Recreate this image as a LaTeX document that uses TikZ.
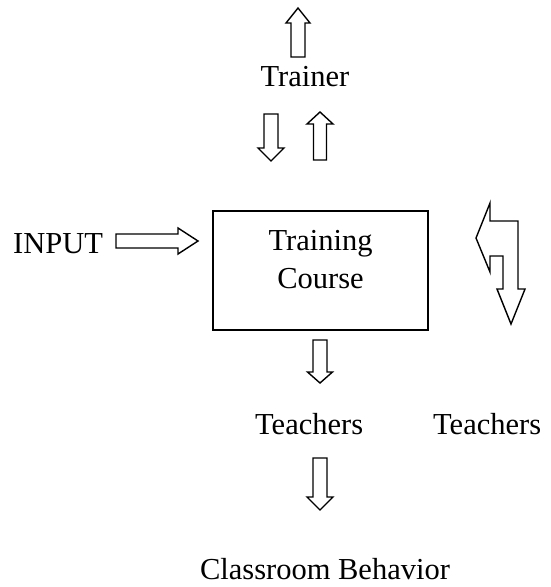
\documentclass[tikz,border=0pt]{standalone}
\usepackage{fontspec}
\setmainfont{Liberation Serif}
\begin{document}
\begin{tikzpicture}[x=1pt,y=-1pt,
  lbl/.style={font=\fontsize{30.5}{37}\selectfont, inner sep=0pt, anchor=base},
  blockarrow/.style={draw=black, line width=1.4pt, fill=white, line join=miter},
  coursebox/.style={draw=black, line width=1.8pt, inner sep=0pt}]
\useasboundingbox (0,0) rectangle (550,587);

% central box
\node[coursebox, minimum width=215pt, minimum height=119pt] (course) at (320.5,270.5) {};
\node[lbl] (training) at (320.5,250) {Training};
\node[lbl] (coursetxt) at (320.5,288) {Course};

% labels
\node[lbl] (trainer) at (305,86) {Trainer};
\node[lbl, anchor=base west] (input) at (13,253) {INPUT};
\node[lbl, anchor=base west] (teachers) at (255,434) {Teachers};
\node[lbl, anchor=base west] (teachers2) at (433,434) {Teachers};
\node[lbl] (behavior) at (325,579) {Classroom Behavior};

% block arrows
% up, above Trainer
\draw[blockarrow] (298,8) -- (310,23) -- (305,23) -- (305,57) -- (291,57) -- (291,23) -- (286,23) -- cycle;
% down, left of second row
\draw[blockarrow] (271,161) -- (284,148) -- (278,148) -- (278,114) -- (264,114) -- (264,148) -- (258,148) -- cycle;
% up, right of second row
\draw[blockarrow] (320,112) -- (333,124) -- (326.5,124) -- (326.5,160) -- (313.5,160) -- (313.5,124) -- (307,124) -- cycle;
% down, below the box
\draw[blockarrow] (320,383) -- (332.5,372) -- (327,372) -- (327,340) -- (313,340) -- (313,372) -- (307.5,372) -- cycle;
% down, below Teachers
\draw[blockarrow] (320,510) -- (333,497) -- (327,497) -- (327,458) -- (313,458) -- (313,497) -- (307,497) -- cycle;
% right, after INPUT
\draw[blockarrow] (198,241) -- (178,228) -- (178,234) -- (116,234) -- (116,248) -- (178,248) -- (178,254) -- cycle;
% bent arrow on the right
\draw[blockarrow] (476,238) -- (490,203) -- (490,221) -- (518,221) -- (518,289) -- (525,289)
  -- (511,324) -- (497,289) -- (503,289) -- (503,256) -- (490,256) -- (490,272) -- cycle;
\end{tikzpicture}
\end{document}
